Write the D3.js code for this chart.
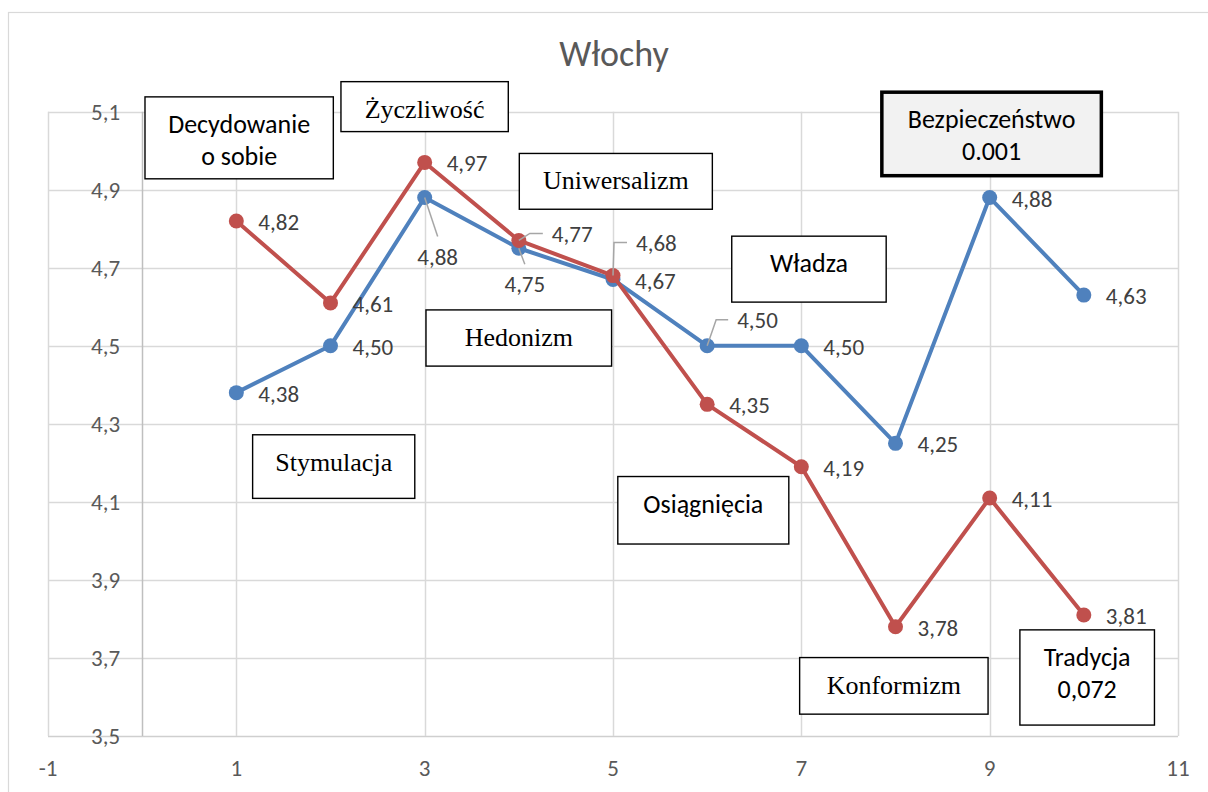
<!DOCTYPE html>
<html>
<head>
<meta charset="utf-8">
<script src="https://cdnjs.cloudflare.com/ajax/libs/d3/7.8.5/d3.min.js"></script>
<style>
  body { margin: 0; background: #fff; }
  svg { display: block; }
</style>
</head>
<body>
<svg id="chart" width="1208" height="792"></svg>
<script>
const WIDTH = 1208
const HEIGHT = 792

// data
const xValues = [1, 2, 3, 4, 5, 6, 7, 8, 9, 10]
const blueValues = [4.38, 4.50, 4.88, 4.75, 4.67, 4.50, 4.50, 4.25, 4.88, 4.63]
const redValues = [4.82, 4.61, 4.97, 4.77, 4.68, 4.35, 4.19, 3.78, 4.11, 3.81]
const xTicks = [-1, 1, 3, 5, 7, 9, 11]
const yTicks = [3.5, 3.7, 3.9, 4.1, 4.3, 4.5, 4.7, 4.9, 5.1]
const title = 'Włochy'

// text boxes placed in chart units (x0, x1, yTop, yBottom)
const notes = [
  { lines: ['Decydowanie', 'o sobie'], serif: false, x0: 0.03, x1: 2.03, y0: 5.138, y1: 4.928 },
  { lines: ['Życzliwość'], serif: true, x0: 2.111, x1: 3.888, y0: 5.177, y1: 5.049 },
  { lines: ['Uniwersalizm'], serif: true, x0: 4.005, x1: 6.055, y0: 4.993, y1: 4.850 },
  { lines: ['Hedonizm'], serif: true, x0: 3.014, x1: 4.985, y0: 4.592, y1: 4.448 },
  { lines: ['Władza'], serif: false, x0: 6.261, x1: 7.901, y0: 4.781, y1: 4.612 },
  { lines: ['Bezpieczeństwo', '0.001'], serif: false, bold: true, x0: 7.855, x1: 10.186, y0: 5.150, y1: 4.936 },
  { lines: ['Stymulacja'], serif: true, x0: 1.173, x1: 2.895, y0: 4.272, y1: 4.109 },
  { lines: ['Osiągnięcia'], serif: false, x0: 5.051, x1: 6.867, y0: 4.165, y1: 3.992 },
  { lines: ['Konformizm'], serif: true, x0: 6.982, x1: 8.983, y0: 3.701, y1: 3.556 },
  { lines: ['Tradycja', '0,072'], serif: false, x0: 9.321, x1: 10.750, y0: 3.772, y1: 3.528 }
]

// label placement tweaks (pixel offsets), default is right of the point
const blueLabelPos = { 2: { dx: 13, dy: 59, anchor: 'middle', leader: 'straight' },
                       3: { dx: 6, dy: 36, anchor: 'middle', leader: 'straight' },
                       5: { dx: 30, dy: -26, leader: 'knee', kx: 9 } }
const redLabelPos = { 3: { dx: 33, dy: -7, leader: 'knee', kx: 11 },
                      4: { dx: 23, dy: -33, leader: 'knee', kx: 1 } }

const BLUE = '#4f81bd'
const RED = '#c0504d'
const SANS = 'Carlito, Calibri, Lato, sans-serif'
const SERIF = '"Liberation Serif", "Times New Roman", serif'

const locale = d3.formatLocale({ decimal: ',', thousands: ' ', grouping: [3], currency: ['', ''] })
const fmt2 = locale.format('.2f')
const fmt1 = locale.format('.1f')

const svg = d3.select('#chart')

// outer chart frame
svg.append('rect')
  .attr('x', 8.5).attr('y', 12.5)
  .attr('width', WIDTH + 100).attr('height', HEIGHT + 100)
  .attr('fill', '#fff').attr('stroke', '#d9d9d9').attr('stroke-width', 1.2)

const x = d3.scaleLinear().domain([-1, 11]).range([48, 1178])
const y = d3.scaleLinear().domain([3.5, 5.1]).range([736, 111.7])

// title
svg.append('text')
  .attr('x', 614).attr('y', 66)
  .attr('text-anchor', 'middle')
  .style('font-family', SANS).style('font-size', '36px')
  .attr('fill', '#595959')
  .text(title)

// gridlines
svg.append('g').selectAll('line')
  .data(yTicks)
  .enter()
  .append('line')
  .attr('x1', x(-1)).attr('x2', x(11))
  .attr('y1', d => Math.round(y(d)) + 0.5).attr('y2', d => Math.round(y(d)) + 0.5)
  .attr('stroke', d => d === 3.5 ? '#cfcfcf' : '#d9d9d9')
  .attr('stroke-width', 1.5)

svg.append('g').selectAll('line')
  .data(xTicks)
  .enter()
  .append('line')
  .attr('x1', d => Math.round(x(d)) + 0.5).attr('x2', d => Math.round(x(d)) + 0.5)
  .attr('y1', y(5.1)).attr('y2', y(3.5))
  .attr('stroke', '#d9d9d9')
  .attr('stroke-width', 1.5)

// y axis at x = 0
svg.append('line')
  .attr('x1', Math.round(x(0)) + 0.5).attr('x2', Math.round(x(0)) + 0.5)
  .attr('y1', y(5.1)).attr('y2', y(3.5))
  .attr('stroke', '#bfbfbf').attr('stroke-width', 1.5)

// tick labels
svg.append('g').selectAll('text')
  .data(yTicks)
  .enter()
  .append('text')
  .attr('x', x(0) - 22)
  .attr('y', d => y(d))
  .attr('dy', '0.35em')
  .attr('text-anchor', 'end')
  .style('font-family', SANS).style('font-size', '23px')
  .attr('fill', '#595959')
  .text(d => fmt1(d))

svg.append('g').selectAll('text')
  .data(xTicks)
  .enter()
  .append('text')
  .attr('x', d => x(d))
  .attr('y', y(3.5) + 32)
  .attr('dy', '0.35em')
  .attr('text-anchor', 'middle')
  .style('font-family', SANS).style('font-size', '23px')
  .attr('fill', '#595959')
  .text(d => d)

// text boxes
const boxes = svg.append('g').selectAll('g')
  .data(notes)
  .enter()
  .append('g')

boxes.append('rect')
  .attr('x', d => x(d.x0)).attr('y', d => y(d.y0))
  .attr('width', d => x(d.x1) - x(d.x0))
  .attr('height', d => y(d.y1) - y(d.y0))
  .attr('fill', d => d.bold ? '#f2f2f2' : '#fff')
  .attr('stroke', '#000')
  .attr('stroke-width', d => d.bold ? 3.5 : 1.4)

boxes.each(function (d) {
  const g = d3.select(this)
  d.lines.forEach((line, i) => {
    g.append('text')
      .attr('x', (x(d.x0) + x(d.x1)) / 2)
      .attr('y', y(d.y0) + 36 + i * 32)
      .attr('text-anchor', 'middle')
      .style('font-family', d.serif ? SERIF : SANS)
      .style('font-size', '26px')
      .attr('fill', '#000')
      .text(line)
  })
})

// series
const line = d3.line()
  .x(d => x(d.x))
  .y(d => y(d.v))

const series = [
  { color: BLUE, values: blueValues, pos: blueLabelPos },
  { color: RED, values: redValues, pos: redLabelPos }
]

series.forEach(s => {
  const pts = xValues.map((xv, i) => ({ x: xv, v: s.values[i], i: i }))
  svg.append('path')
    .datum(pts)
    .attr('d', line)
    .attr('fill', 'none')
    .attr('stroke', s.color)
    .attr('stroke-width', 4)
    .attr('stroke-linejoin', 'round')

  svg.append('g').selectAll('circle')
    .data(pts)
    .enter()
    .append('circle')
    .attr('cx', d => x(d.x))
    .attr('cy', d => y(d.v))
    .attr('r', 7.5)
    .attr('fill', s.color)
})

// data labels and leader lines
series.forEach(s => {
  const pts = xValues.map((xv, i) => ({ x: xv, v: s.values[i], i: i }))
  pts.forEach(d => {
    const px = x(d.x)
    const py = y(d.v)
    const p = s.pos[d.i] || { dx: 22, dy: 1 }
    const lx = px + p.dx
    const ly = py + p.dy
    if (p.leader === 'knee') {
      svg.append('polyline')
        .attr('points', [[px, py], [px + p.kx, ly], [lx - 9, ly]].map(q => q.join(',')).join(' '))
        .attr('fill', 'none').attr('stroke', '#a6a6a6').attr('stroke-width', 1.5)
    } else if (p.leader === 'straight') {
      svg.append('line')
        .attr('x1', px).attr('y1', py)
        .attr('x2', lx).attr('y2', ly - 20)
        .attr('stroke', '#a6a6a6').attr('stroke-width', 1.5)
    }
    svg.append('text')
      .attr('x', lx).attr('y', ly)
      .attr('dy', '0.35em')
      .attr('text-anchor', p.anchor || 'start')
      .style('font-family', SANS).style('font-size', '23px')
      .attr('fill', '#404040')
      .text(fmt2(d.v))
  })
})
</script>
</body>
</html>
